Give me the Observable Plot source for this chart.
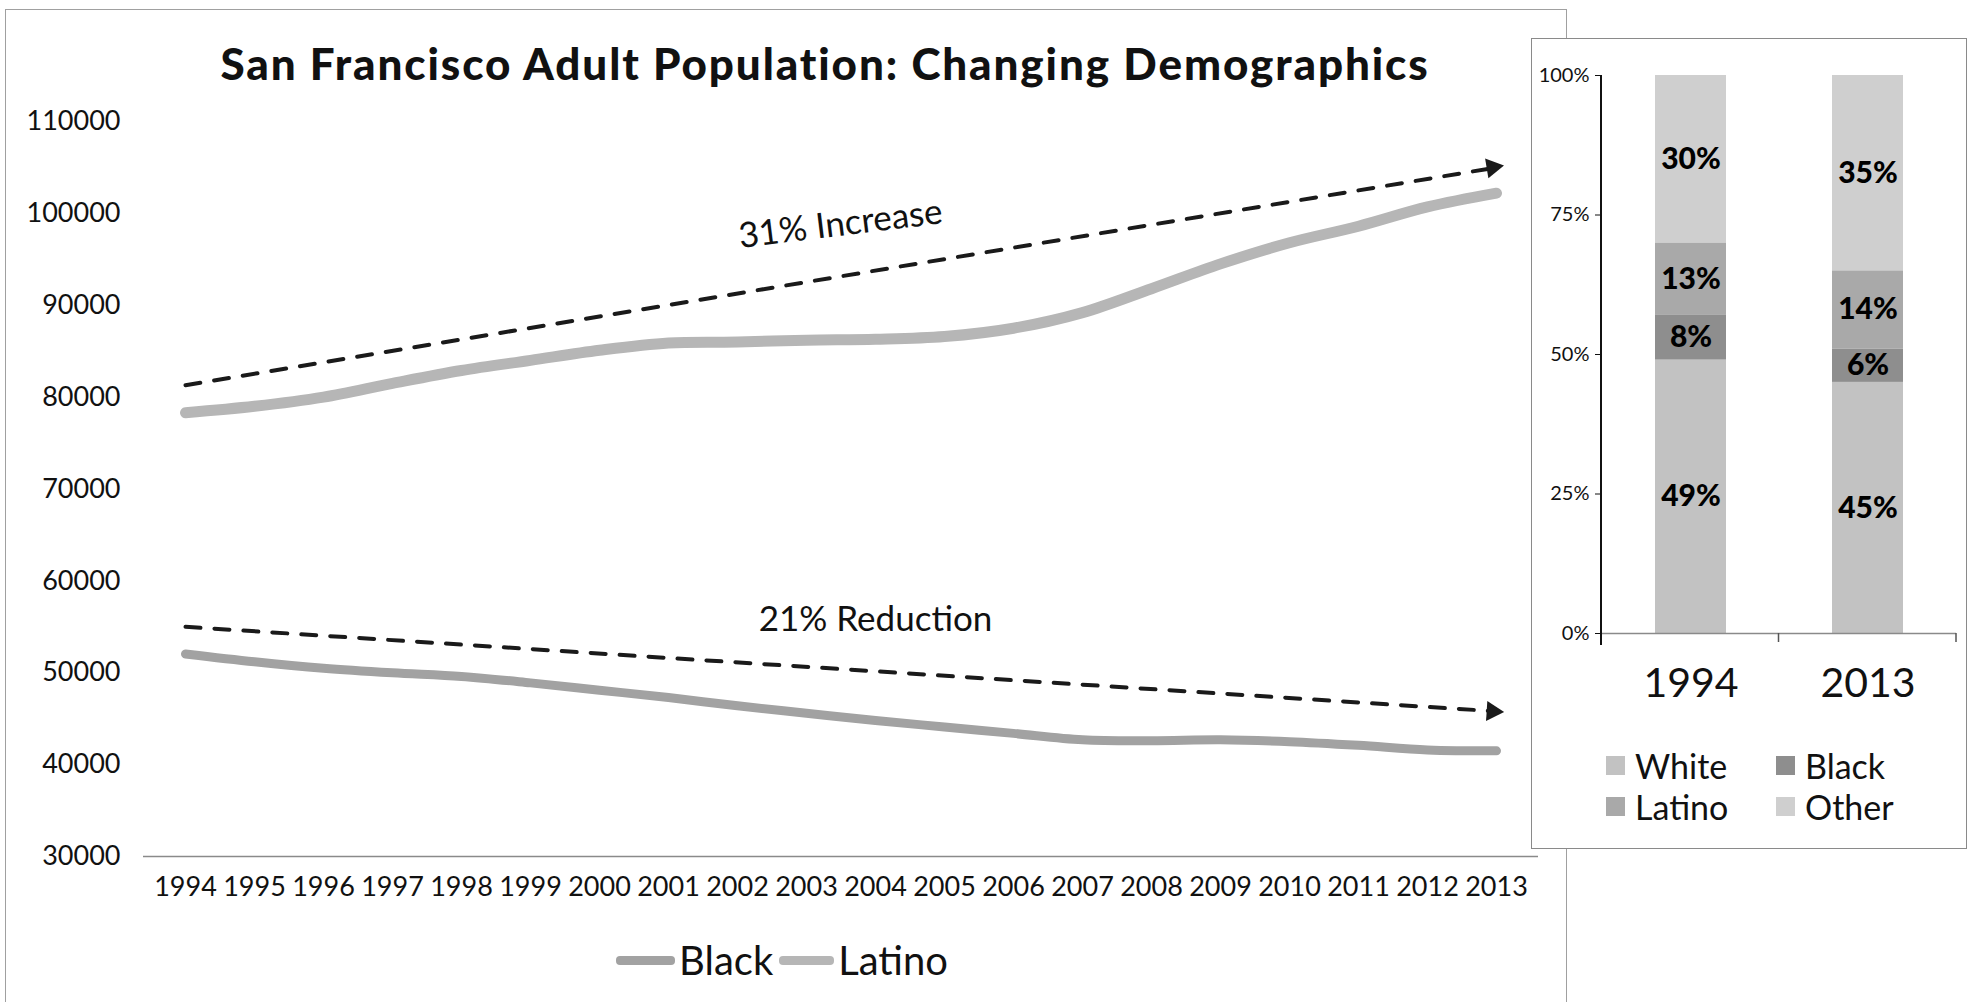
<!DOCTYPE html>
<html>
<head>
<meta charset="utf-8">
<script src="https://cdn.jsdelivr.net/npm/d3@7"></script>
<script src="https://cdn.jsdelivr.net/npm/@observablehq/plot@0.6"></script>
<style>
  html, body { margin: 0; padding: 0; background: #fff; }
  #stage { position: relative; width: 1972px; height: 1002px; overflow: hidden; background: #fff; font-family: Lato, "Open Sans", sans-serif; color: #111; }
  .abs { position: absolute; }
  #leftFrame { left: 5px; top: 9px; width: 1562px; height: 1100px; border: 1px solid #a0a0a0; box-sizing: border-box; }
  #leftPlot { left: 0; top: 0; }
  #title { left: 0; top: 37px; width: 1650px; text-align: center; font-size: 44px; font-weight: 900; line-height: 52px; white-space: nowrap; }
  #lineLegend { left: 616px; top: 934px; height: 52px; display: flex; align-items: center; font-size: 40px; white-space: nowrap; }
  #lineLegend .sw { display: inline-block; height: 9px; border-radius: 4px; margin-right: 4px; }
  #rightPanel { left: 1531px; top: 38px; width: 436px; height: 811px; border: 1px solid #8a8a8a; background: #fff; box-sizing: border-box; }
  #rightPlot { left: 1532px; top: 38px; }
  #barLegend { left: 1606px; top: 745px; display: grid; grid-template-columns: 170px 170px; row-gap: 0px; font-size: 34px; line-height: 41px; }
  #barLegend .item { display: flex; align-items: center; white-space: nowrap; }
  #barLegend .sq { width: 19px; height: 19px; margin-right: 10px; display: inline-block; }
  svg { background: transparent !important; }
</style>
</head>
<body>
<div id="stage">
  <div id="leftFrame" class="abs"></div>
  <div id="leftPlot" class="abs"></div>
  <div id="title" class="abs">San Francisco Adult Population: Changing Demographics</div>
  <div id="lineLegend" class="abs"></div>
  <div id="rightPanel" class="abs"></div>
  <div id="rightPlot" class="abs"></div>
  <div id="barLegend" class="abs"></div>
</div>
<script>
// ---------- data ----------
const years = ["1994","1995","1996","1997","1998","1999","2000","2001","2002","2003",
               "2004","2005","2006","2007","2008","2009","2010","2011","2012","2013"];
const latino = [78300, 79000, 80000, 81500, 82900, 84000, 85100, 85900, 86000, 86200,
                86300, 86600, 87500, 89200, 91800, 94500, 96800, 98600, 100700, 102200];
const black  = [52050, 51200, 50500, 50000, 49600, 48900, 48100, 47300, 46400, 45600,
                44800, 44100, 43400, 42700, 42600, 42700, 42500, 42100, 41600, 41500];
const trendYears = ["1994", "2013"];
const increaseTrend = [81300, 105000];
const reductionTrend = [55000, 45800];
const yTicks = [30000, 40000, 50000, 60000, 70000, 80000, 90000, 100000, 110000];
const annotationText = ["31% Increase", "21% Reduction"];
const annotationYear = ["2003", "2004"];
const annotationValue = [98800, 55800];
const lineSeries = ["Black", "Latino"];

const barYears = ["1994", "2013"];
const groups = ["White", "Black", "Latino", "Other"];
const share1994 = [49, 8, 13, 30];
const share2013 = [45, 6, 14, 35];
const pctTicks = [0, 25, 50, 75, 100];

// ---------- styles ----------
const FONT = "Lato, 'Open Sans', sans-serif";
const lineColors = {Black: "#a2a2a2", Latino: "#b6b6b6"};
const groupColors = ["#c2c2c2", "#8e8e8e", "#a9a9a9", "#cfcfcf"];

// ---------- left chart ----------
const W = 1560, H = 1002;
const mL = 143, mR = 22, mT = 121, mB = 146;
const xOpt = {type: "point", domain: years, range: [mL, W - mR], padding: 0.5};
const yOpt = {domain: [30000, 110000], range: [H - mB, mT]};
const sx = Plot.scale({x: xOpt});
const sy = Plot.scale({y: yOpt});
function angle(vals) {
  const dx = sx.apply(trendYears[1]) - sx.apply(trendYears[0]);
  const dy = sy.apply(vals[1]) - sy.apply(vals[0]);
  return Math.atan2(dy, dx) * 180 / Math.PI;
}

const latinoRows = years.map((year, i) => ({year, value: latino[i]}));
const blackRows = years.map((year, i) => ({year, value: black[i]}));
const incRows = trendYears.map((year, i) => ({year, value: increaseTrend[i]}));
const redRows = trendYears.map((year, i) => ({year, value: reductionTrend[i]}));

const left = Plot.plot({
  width: W, height: H,
  marginLeft: mL, marginRight: mR, marginTop: mT, marginBottom: mB,
  x: xOpt, y: yOpt,
  style: {background: "transparent", fontFamily: FONT, color: "#111"},
  marks: [
    Plot.axisY({ticks: yTicks, tickSize: 0, tickPadding: 23, tickFormat: d3.format("d"), fontSize: 27, label: null}),
    Plot.axisX({tickSize: 0, tickPadding: 20, fontSize: 27, label: null}),
    Plot.ruleY([30000], {stroke: "#8a8a8a", strokeWidth: 1.5}),
    Plot.line(latinoRows, {x: "year", y: "value", stroke: lineColors.Latino, strokeWidth: 11, curve: "catmull-rom", strokeLinecap: "round"}),
    Plot.line(blackRows, {x: "year", y: "value", stroke: lineColors.Black, strokeWidth: 9, curve: "catmull-rom", strokeLinecap: "round"}),
    Plot.line(incRows, {x: "year", y: "value", stroke: "#1a1a1a", strokeWidth: 4, strokeDasharray: "15,14"}),
    Plot.line(redRows, {x: "year", y: "value", stroke: "#1a1a1a", strokeWidth: 4, strokeDasharray: "15,14"}),
    Plot.dot(incRows.slice(-1), {x: "year", y: "value", symbol: "triangle", r: 7.5, dx: -4, fill: "#1a1a1a", stroke: "none", rotate: angle(increaseTrend) + 90}),
    Plot.dot(redRows.slice(-1), {x: "year", y: "value", symbol: "triangle", r: 7.5, dx: -4, fill: "#1a1a1a", stroke: "none", rotate: angle(reductionTrend) + 90}),
    Plot.text([0], {x: () => annotationYear[0], y: () => annotationValue[0], text: () => annotationText[0], dx: 34, rotate: -7, fontSize: 35, fill: "#111"}),
    Plot.text([1], {x: () => annotationYear[1], y: () => annotationValue[1], text: () => annotationText[1], fontSize: 35, fill: "#111"})
  ]
});
document.getElementById("leftPlot").appendChild(left);

// line legend
const lg = document.getElementById("lineLegend");
lineSeries.forEach((s, i) => {
  const sw = document.createElement("span");
  sw.className = "sw";
  sw.style.width = (i === 0 ? 59 : 55) + "px";
  sw.style.background = lineColors[s];
  sw.style.marginLeft = i === 0 ? "0px" : "6px";
  const t = document.createElement("span");
  t.textContent = s;
  lg.appendChild(sw); lg.appendChild(t);
});

// ---------- right chart ----------
const RW = 434, RH = 670;
const barRows = [];
barYears.forEach((year, j) => {
  const shares = j === 0 ? share1994 : share2013;
  groups.forEach((g, i) => barRows.push({year, group: g, pct: shares[i]}));
});
const right = Plot.plot({
  width: RW, height: RH,
  marginLeft: 69, marginRight: 10, marginTop: 37, marginBottom: 75,
  x: {type: "band", domain: barYears, paddingInner: 0.6, paddingOuter: 0.3},
  y: {domain: [0, 100]},
  color: {domain: groups, range: groupColors},
  style: {background: "transparent", fontFamily: FONT, color: "#111"},
  marks: [
    Plot.barY(barRows, {x: "year", y: "pct", fill: "group"}),
    Plot.text(barRows, Plot.stackY({x: "year", y: "pct", text: d => d.pct + "%", fontSize: 30, fontWeight: 900, fill: "#000"})),
    Plot.ruleY([0], {stroke: "#8a8a8a", strokeWidth: 1.5}),
    Plot.axisY({ticks: pctTicks, tickFormat: d => d + "%", tickSize: 6, tickPadding: 6, fontSize: 20, label: null}),
    Plot.axisX({tickSize: 0, tickPadding: 34, fontSize: 41, label: null})
  ]
});
document.getElementById("rightPlot").appendChild(right);
// axis line and category tick marks drawn from the plot's own scales
{
  const rx = right.scale("x"), ry = right.scale("y");
  const svg = d3.select(right);
  const x0 = rx.range[0], x1 = rx.range[1];
  const y0 = ry.apply(0), y100 = ry.apply(100);
  svg.append("line").attr("x1", x0).attr("x2", x0).attr("y1", y100).attr("y2", y0 + 12)
     .attr("stroke", "#111").attr("stroke-width", 2);
  [(x0 + x1) / 2, x1].forEach(xv => {
    svg.append("line").attr("x1", xv).attr("x2", xv).attr("y1", y0).attr("y2", y0 + 9)
       .attr("stroke", "#555").attr("stroke-width", 1.5);
  });
}

// bar legend
const bl = document.getElementById("barLegend");
groups.forEach((g, i) => {
  const it = document.createElement("div");
  it.className = "item";
  const sq = document.createElement("span");
  sq.className = "sq";
  sq.style.background = groupColors[i];
  const t = document.createElement("span");
  t.textContent = g;
  it.appendChild(sq); it.appendChild(t);
  bl.appendChild(it);
});

// fit title width to the reference width
{
  const el = document.getElementById("title");
  const span = document.createElement("span");
  span.textContent = el.textContent;
  el.textContent = "";
  el.appendChild(span);
  const w = span.getBoundingClientRect().width;
  const target = 1210;
  const n = span.textContent.length;
  span.style.letterSpacing = ((target - w) / n).toFixed(2) + "px";
}
</script>
</body>
</html>
